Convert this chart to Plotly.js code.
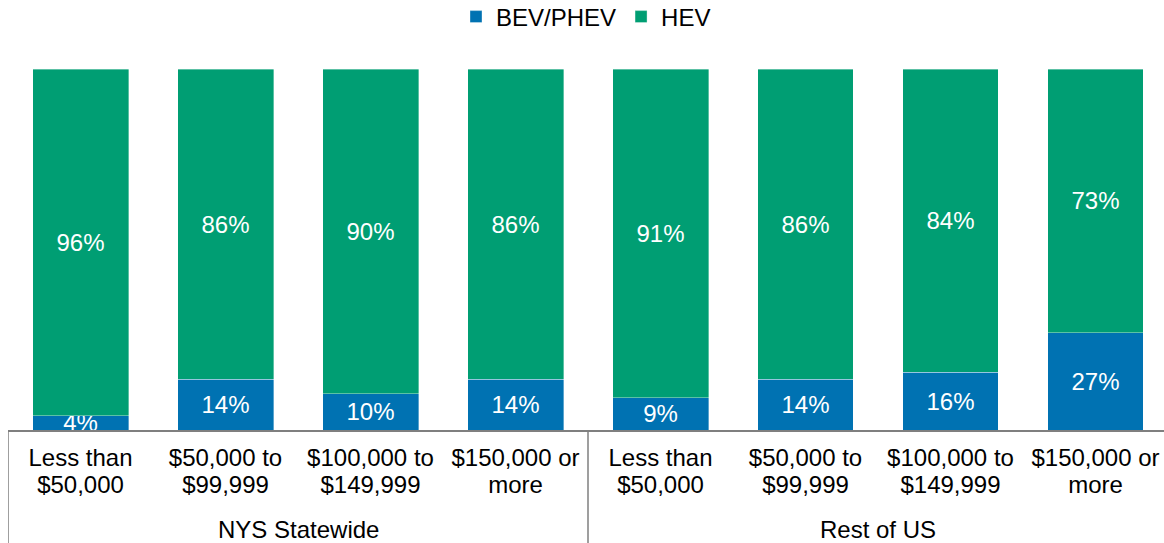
<!DOCTYPE html>
<html>
<head>
<meta charset="utf-8">
<script src="https://cdn.plot.ly/plotly-3.0.1.min.js"></script>
<style>html,body{margin:0;padding:0;background:#fff;}#chart{width:1164px;height:543px;}</style>
</head>
<body>
<div id="chart"></div>
<script>
var categories = ["Less than<br>$50,000", "$50,000 to<br>$99,999", "$100,000 to<br>$149,999", "$150,000 or<br>more",
                  "Less than<br>$50,000", "$50,000 to<br>$99,999", "$100,000 to<br>$149,999", "$150,000 or<br>more"];
var groups = ["NYS Statewide", "Rest of US"];
var groupSizes = [4, 4];
var bevPhev = [4, 14, 10, 14, 9, 14, 16, 27];
var hev = [96, 86, 90, 86, 91, 86, 84, 73];

var xs = categories.map(function (c, i) { return i; });
var fontFam = "Liberation Sans, Arial, sans-serif";
var fs = 24;

function lbl(arr) { return arr.map(function (v) { return v + "%"; }); }

var traces = [
  {
    type: "bar", name: "BEV/PHEV", x: xs, y: bevPhev, text: lbl(bevPhev),
    marker: { color: "#0072B2", line: { color: "rgba(255,255,255,0.45)", width: 0.8 } },
    textposition: "inside", insidetextanchor: "middle", constraintext: "none", textangle: 0,
    textfont: { color: "#ffffff", size: fs, family: fontFam }, width: 0.662, hoverinfo: "none"
  },
  {
    type: "bar", name: "HEV", x: xs, y: hev, text: lbl(hev),
    marker: { color: "#009E73", line: { color: "rgba(255,255,255,0.45)", width: 0.8 } },
    textposition: "inside", insidetextanchor: "middle", constraintext: "none", textangle: 0,
    textfont: { color: "#ffffff", size: fs, family: fontFam }, width: 0.662, hoverinfo: "none"
  }
];

var plotH = 543 - 69 - 113;
var shapes = [];
var annotations = [];
var start = 0;
var lineBottom = -113 / plotH;
shapes.push({ type: "line", xref: "x", yref: "paper", x0: -0.5, x1: -0.5, y0: 0, y1: lineBottom, line: { color: "#7f7f7f", width: 1.5 } });
groups.forEach(function (g, gi) {
  var n = groupSizes[gi];
  var end = start + n;
  shapes.push({ type: "line", xref: "x", yref: "paper", x0: end - 0.5, x1: end - 0.5, y0: 0, y1: lineBottom, line: { color: "#7f7f7f", width: 1.5 } });
  annotations.push({ xref: "x", yref: "paper", x: (start + end - 1) / 2, y: -(529 - 430) / plotH, yanchor: "middle", xanchor: "center",
    text: g, showarrow: false, font: { size: fs, color: "#000000", family: fontFam } });
  start = end;
});

var layout = {
  width: 1164, height: 543,
  margin: { l: 8, r: 0, t: 69, b: 113, pad: 0, autoexpand: false },
  paper_bgcolor: "#ffffff", plot_bgcolor: "#ffffff",
  barmode: "stack",
  font: { family: fontFam, color: "#000000", size: fs },
  showlegend: true,
  legend: { orientation: "h", x: 0.5, xanchor: "center", y: 1 + (69 - 17) / plotH, yanchor: "middle",
    font: { size: fs, color: "#000000", family: fontFam }, traceorder: "normal", itemwidth: 30 },
  xaxis: {
    range: [-0.5, -0.5 + 1156 / 145], tickmode: "array", tickvals: xs, ticktext: categories,
    showline: true, linecolor: "#7f7f7f", linewidth: 1.5, ticks: "", showgrid: false, zeroline: false,
    ticklabelstandoff: 6, automargin: false,
    tickfont: { size: fs, color: "#000000", family: fontFam }, fixedrange: true
  },
  yaxis: { range: [0, 100], visible: false, showgrid: false, zeroline: false, fixedrange: true },
  shapes: shapes,
  annotations: annotations
};

Plotly.newPlot("chart", traces, layout, { displayModeBar: false, staticPlot: true }).then(function (gd) {
  var spans = gd.querySelectorAll(".xtick text tspan.line");
  spans.forEach(function (s) {
    if (s.getAttribute("dy") === "1.3em") s.setAttribute("dy", "1.12em");
  });
});
</script>
</body>
</html>
